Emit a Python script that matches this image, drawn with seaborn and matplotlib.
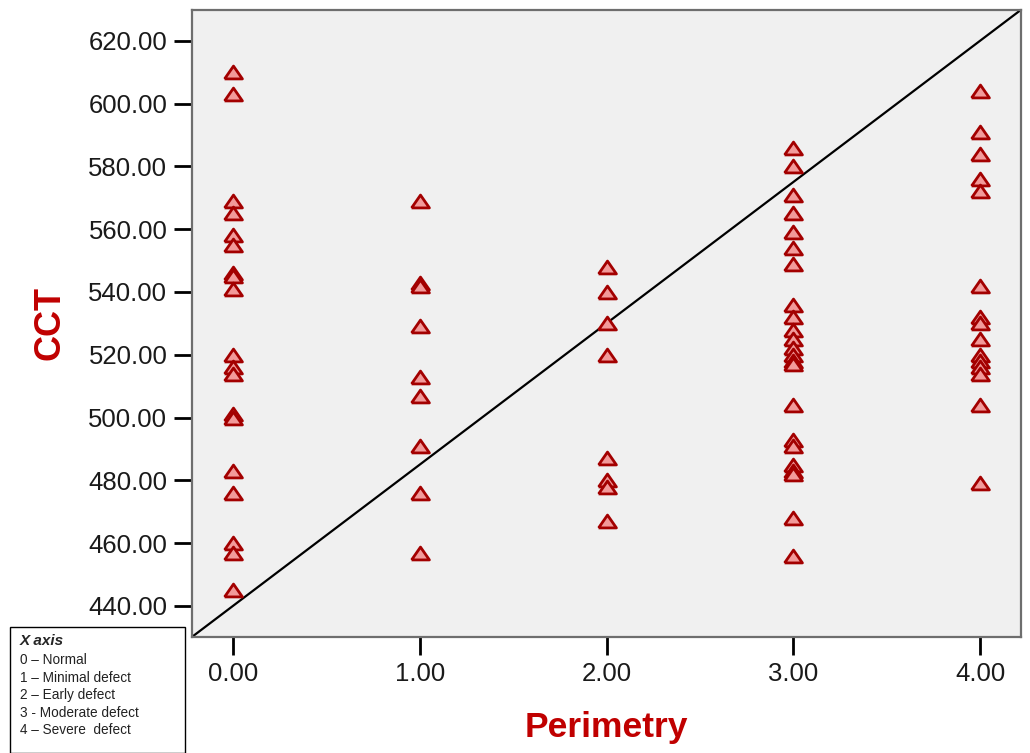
import numpy as np
import pandas as pd
import matplotlib
matplotlib.use("Agg")
import matplotlib.pyplot as plt
import seaborn as sns
from matplotlib.patches import Rectangle

# ── Data (CCT by perimetry grade) ─────────────────────
cct_grade0 = [610, 603, 569, 565, 558, 555, 546, 545, 541, 520, 516, 514,
              501, 500, 483, 476, 460, 457, 445]
cct_grade1 = [569, 543, 542, 529, 513, 507, 491, 476, 457]
cct_grade2 = [548, 540, 530, 520, 487, 480, 478, 467]
cct_grade3 = [586, 580, 571, 565, 559, 554, 549, 536, 532, 528, 525, 522,
              520, 518, 517, 504, 493, 491, 485, 483, 482, 468, 456]
cct_grade4 = [604, 591, 584, 576, 572, 542, 532, 530, 525, 520, 518, 516,
              514, 504, 479]

grades = [0, 1, 2, 3, 4]
x_ticks = [0, 1, 2, 3, 4]
y_ticks = [440, 460, 480, 500, 520, 540, 560, 580, 600, 620]

# reference line, corner to corner of the plot box
line_x = [-0.218, 4.217]
line_y = [430.2, 629.8]

legend_title = "X axis"
legend_items = ["0 \u2013 Normal", "1 \u2013 Minimal defect", "2 \u2013 Early defect",
                "3 - Moderate defect", "4 \u2013 Severe  defect"]

df = pd.DataFrame({
    "Perimetry": np.concatenate([[g] * len(v) for g, v in zip(
        grades, [cct_grade0, cct_grade1, cct_grade2, cct_grade3, cct_grade4])]),
    "CCT": cct_grade0 + cct_grade1 + cct_grade2 + cct_grade3 + cct_grade4,
})

# ── Style ─────────────────────────────────────────────
sns.set_style("white")
plt.rcParams["font.family"] = ["Liberation Sans", "DejaVu Sans"]

RED_LABEL = "#C00000"
FACE = "#F29A9A"
EDGE = "#A30000"

fig = plt.figure(figsize=(10.3, 7.53), dpi=100)
ax = fig.add_axes([0.1867, 0.1545, 0.8043, 0.8322])
ax.set_facecolor("#F0F0F0")

tri = [(-1, -0.72), (1, -0.72), (0, 0.72), (-1, -0.72)]
sns.scatterplot(data=df, x="Perimetry", y="CCT", ax=ax, marker=tri, s=165,
                color=FACE, edgecolor=EDGE, linewidth=2.0, zorder=3, legend=False)
ax.plot(line_x, line_y, color="black", lw=1.6, zorder=2)

ax.set_xlim(line_x[0], line_x[1])
ax.set_ylim(line_y[0], line_y[1])
ax.set_xticks(x_ticks)
ax.set_xticklabels([f"{v:.2f}" for v in x_ticks])
ax.set_yticks(y_ticks)
ax.set_yticklabels([f"{v:.2f}" for v in y_ticks])
ax.tick_params(axis="both", bottom=True, left=True, length=13, width=2,
               color="black", pad=5, labelsize=18.5, labelcolor="#1A1A1A")

for sp in ax.spines.values():
    sp.set_visible(True)
    sp.set_color("#6E6E6E")
    sp.set_linewidth(1.6)

ax.set_xlabel("Perimetry", fontsize=25.5, fontweight="bold", color=RED_LABEL, labelpad=18)
ax.set_ylabel("CCT", fontsize=26, fontweight="bold", color=RED_LABEL, labelpad=15)

# ── Legend box for x-axis codes ───────────────────────
W, H = 1030, 753
fig.patches.append(Rectangle((10 / W, 0), 175 / W, 1 - 627 / H,
                             transform=fig.transFigure, fill=False,
                             edgecolor="black", lw=1.0))
fig.text(20 / W, 1 - 641 / H, legend_title, fontsize=11, fontweight="bold",
         fontstyle="italic", va="center", ha="left")
for i, item in enumerate(legend_items):
    fig.text(20 / W, 1 - (660 + i * 17.6) / H, item, fontsize=9.8,
             va="center", ha="left", color="#222222")

fig.savefig("out.png", dpi=100)
